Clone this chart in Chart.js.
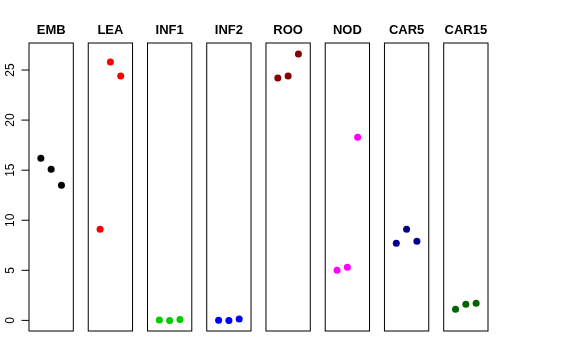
<!DOCTYPE html>
<html>
<head>
<meta charset="utf-8">
<script src="https://cdn.jsdelivr.net/npm/chart.js@4"></script>
<style>
  html, body { margin: 0; padding: 0; background: #ffffff; }
  #wrap { width: 576px; height: 360px; }
</style>
</head>
<body>
<div id="wrap"><canvas id="c" width="576" height="360"></canvas></div>
<script>
// Data
const categories = ["EMB", "LEA", "INF1", "INF2", "ROO", "NOD", "CAR5", "CAR15"];
const embValues   = [16.2, 15.1, 13.5];
const leaValues   = [9.1, 25.8, 24.4];
const inf1Values  = [0.05, 0.0, 0.1];
const inf2Values  = [0.02, 0.0, 0.15];
const rooValues   = [24.2, 24.4, 26.6];
const nodValues   = [5.0, 5.3, 18.3];
const car5Values  = [7.7, 9.1, 7.9];
const car15Values = [1.1, 1.6, 1.7];
const seriesValues = [embValues, leaValues, inf1Values, inf2Values, rooValues, nodValues, car5Values, car15Values];
const seriesColors = ["#000000", "#ff0000", "#00cd00", "#0000ff", "#8b0000", "#ff00ff", "#00008b", "#006400"];
const yTicks = [0, 5, 10, 15, 20, 25];

// Panel geometry in x-scale units
const PITCH = 5.75;
const WIDTH = 4.3;
const OFFSET = 1.15;
const YMIN = -1.06, YMAX = 27.7;

const datasets = seriesValues.map((vals, i) => ({
  label: categories[i],
  data: vals.map((v, j) => ({ x: i * PITCH + OFFSET + j, y: v })),
  backgroundColor: seriesColors[i],
  borderColor: seriesColors[i],
  pointRadius: 3.5,
  pointBorderWidth: 0,
  showLine: false,
  clip: false
}));

const panelPlugin = {
  id: 'panels',
  beforeDatasetsDraw(chart) {
    const ctx = chart.ctx;
    const xs = chart.scales.x, ys = chart.scales.y;
    const top = ys.getPixelForValue(YMAX), bottom = ys.getPixelForValue(YMIN);
    ctx.save();
    ctx.strokeStyle = '#000000';
    ctx.lineWidth = 1;
    categories.forEach((name, i) => {
      const l = xs.getPixelForValue(i * PITCH);
      const r = xs.getPixelForValue(i * PITCH + WIDTH);
      ctx.strokeRect(l, top, r - l, bottom - top);
      ctx.fillStyle = '#000000';
      ctx.font = 'bold 13px "Liberation Sans", Arial, sans-serif';
      ctx.textAlign = 'center';
      ctx.textBaseline = 'alphabetic';
      ctx.fillText(name, (l + r) / 2, 34);
    });
    // y axis ticks on the first panel
    const axX = xs.getPixelForValue(0);
    ctx.beginPath();
    yTicks.forEach(t => {
      const y = ys.getPixelForValue(t);
      ctx.moveTo(axX, y);
      ctx.lineTo(axX - 7.5, y);
    });
    ctx.stroke();
    ctx.font = '12px "Liberation Sans", Arial, sans-serif';
    ctx.fillStyle = '#000000';
    yTicks.forEach(t => {
      const y = ys.getPixelForValue(t);
      ctx.save();
      ctx.translate(13.5, y);
      ctx.rotate(-Math.PI / 2);
      ctx.textAlign = 'center';
      ctx.textBaseline = 'alphabetic';
      ctx.fillText(String(t), 0, 0);
      ctx.restore();
    });
    ctx.restore();
  }
};

new Chart(document.getElementById('c'), {
  type: 'scatter',
  data: { datasets },
  options: {
    responsive: false,
    animation: false,
    layout: { padding: { left: 29, right: 88, top: 43, bottom: 29 } },
    plugins: { legend: { display: false }, tooltip: { enabled: false }, title: { display: false } },
    scales: {
      x: { type: 'linear', display: false, min: 0, max: 7 * PITCH + WIDTH },
      y: { type: 'linear', display: false, min: YMIN, max: YMAX }
    }
  },
  plugins: [panelPlugin]
});
</script>
</body>
</html>
